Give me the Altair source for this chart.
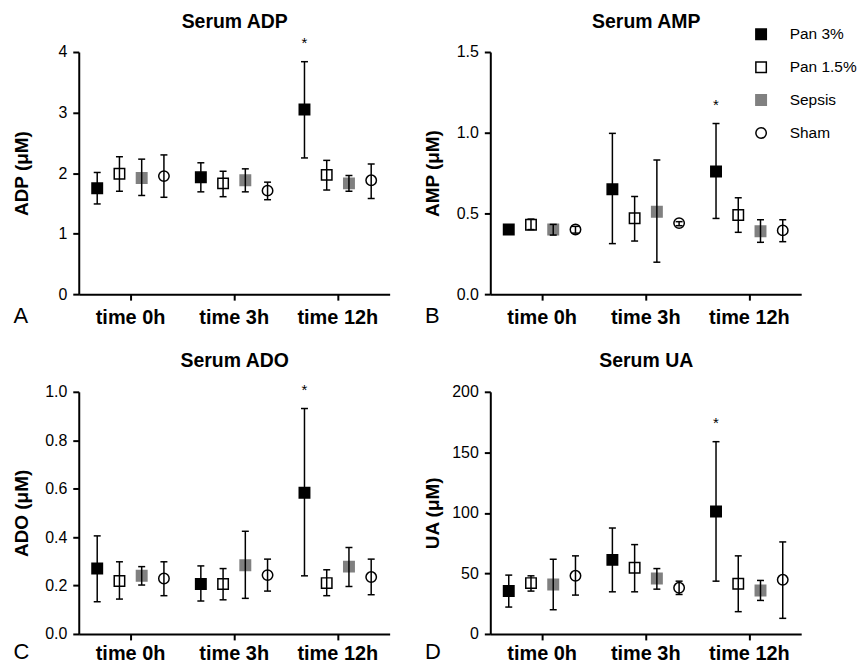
import altair as alt
import pandas as pd

times = ["time 0h", "time 3h", "time 12h"]
groups = ["Pan 3%", "Pan 1.5%", "Sepsis", "Sham"]
fills = ["#000000", "#ffffff", "#808080", "#ffffff"]
strokes = ["#000000", "#000000", "#808080", "#000000"]
shapes = ["square", "square", "square", "circle"]
star_time = "time 12h"
star_group = "Pan 3%"

# values ordered time-major: 0h (Pan3, Pan1.5, Sepsis, Sham), 3h (...), 12h (...)
adp_mean = [1.75, 1.99, 1.92, 1.95, 1.93, 1.83, 1.88, 1.71, 3.05, 1.97, 1.83, 1.88]
adp_lo = [1.49, 1.70, 1.63, 1.60, 1.69, 1.61, 1.69, 1.56, 2.25, 1.72, 1.70, 1.58]
adp_hi = [2.01, 2.27, 2.23, 2.30, 2.17, 2.03, 2.07, 1.85, 3.84, 2.21, 1.96, 2.15]

amp_mean = [0.40, 0.43, 0.40, 0.40, 0.65, 0.47, 0.51, 0.44, 0.76, 0.49, 0.39, 0.395]
amp_lo = [0.39, 0.40, 0.366, 0.378, 0.313, 0.329, 0.198, 0.424, 0.469, 0.383, 0.321, 0.325]
amp_hi = [0.41, 0.465, 0.432, 0.42, 0.996, 0.605, 0.831, 0.449, 1.057, 0.597, 0.461, 0.461]

ado_mean = [0.270, 0.219, 0.240, 0.229, 0.206, 0.206, 0.284, 0.243, 0.583, 0.210, 0.278, 0.235]
ado_lo = [0.133, 0.144, 0.202, 0.158, 0.136, 0.141, 0.147, 0.177, 0.240, 0.158, 0.196, 0.162]
ado_hi = [0.405, 0.298, 0.278, 0.298, 0.281, 0.270, 0.424, 0.309, 0.931, 0.265, 0.357, 0.309]

ua_mean = [35.4, 42.0, 40.9, 48.0, 61.2, 54.6, 45.8, 38.1, 101.2, 41.4, 35.9, 44.7]
ua_lo = [22.2, 35.4, 20.0, 32.1, 34.8, 34.8, 37.0, 32.6, 43.6, 18.4, 27.7, 12.9]
ua_hi = [48.6, 48.0, 61.7, 64.5, 87.5, 73.8, 54.0, 43.6, 158.8, 64.5, 44.2, 76.0]

FONT = "Liberation Sans"
W, H = 312, 243


def table(mean, lo, hi):
    rows = []
    k = 0
    for t in times:
        for g in groups:
            rows.append(dict(time=t, group=g, value=mean[k], lo=lo[k], hi=hi[k],
                             star="*" if (t == star_time and g == star_group) else ""))
            k += 1
    return pd.DataFrame(rows)


def panel(df, title, ytitle, ymax, yvals, fmt, letter, legend, bottom_row):
    base = alt.Chart(df)
    xsc = alt.Scale(type="band", domain=times, paddingInner=0, paddingOuter=0)
    lab_pad = 4 if bottom_row else 7
    letter_y = 25 if bottom_row else 28
    x_bottom = alt.X("time:N", sort=times, scale=xsc,
                     axis=alt.Axis(title=letter, titleX=-66, titleY=letter_y, titleAlign="left",
                                   titleBaseline="alphabetic", titleFontSize=22, titleFontWeight="normal",
                                   titleFont=FONT, labelFont=FONT, labelFontSize=20, labelFontWeight="bold",
                                   labelPadding=lab_pad, tickSize=6, tickWidth=2, domainWidth=2, labelAngle=0))
    x_top = alt.X("time:N", sort=times, scale=xsc,
                  axis=alt.Axis(orient="top", title=title, domain=False, ticks=False, labels=False,
                                titleX=W / 2, titleY=-25, titleAlign="center", titleBaseline="alphabetic",
                                titleFontSize=19.5, titleFontWeight="bold", titleFont=FONT))
    x_none = alt.X("time:N", sort=times, scale=xsc, axis=None)
    xo = alt.XOffset("group:N", sort=groups,
                     scale=alt.Scale(type="point", domain=groups, padding=0.83))
    ysc = alt.Scale(domain=[0, ymax], nice=False, zero=True)
    yax = alt.Axis(values=yvals, format=fmt, labelFontSize=16, labelFont=FONT, labelPadding=6,
                   tickSize=6, tickWidth=2, domainWidth=2, titleX=-51.5, titleY=H / 2,
                   titleAngle=270, titleAlign="center", titleBaseline="alphabetic",
                   titleFontSize=19, titleFontWeight="bold", titleFont=FONT)

    def Y(field):
        return alt.Y(f"{field}:Q", scale=ysc, axis=yax, title=ytitle)

    if legend:
        leg = alt.Legend(title=None, orient="none", legendX=264, legendY=-25.5, padding=0,
                         labelFontSize=15.5, labelFont=FONT, labelColor="black",
                         symbolSize=110, symbolStrokeWidth=1.5, rowPadding=15, labelOffset=21)
    else:
        leg = None

    pts = base.mark_point(filled=True, opacity=1, size=110, strokeWidth=1.5).encode(
        x=x_bottom, xOffset=xo, y=Y("value"),
        shape=alt.Shape("group:N", scale=alt.Scale(domain=groups, range=shapes), legend=leg),
        fill=alt.Fill("group:N", scale=alt.Scale(domain=groups, range=fills), legend=leg),
        stroke=alt.Stroke("group:N", scale=alt.Scale(domain=groups, range=strokes), legend=leg),
    )
    rule = base.mark_rule(color="black", strokeWidth=1.5).encode(
        x=x_none, xOffset=xo, y=Y("lo"), y2="hi:Q")
    tlo = base.mark_tick(color="black", orient="horizontal", size=7, thickness=1.5, opacity=1).encode(
        x=x_none, xOffset=xo, y=Y("lo"))
    thi = base.mark_tick(color="black", orient="horizontal", size=7, thickness=1.5, opacity=1).encode(
        x=x_none, xOffset=xo, y=Y("hi"))
    star = base.transform_filter("datum.star != ''").mark_text(
        fontSize=15, font=FONT, dy=-14, baseline="alphabetic", color="black").encode(
        x=x_top, xOffset=xo, y=Y("hi"), text="star:N")
    return alt.layer(pts, rule, tlo, thi, star).resolve_axis(x="independent").properties(
        width=W, height=H)


pA = panel(table(adp_mean, adp_lo, adp_hi), "Serum ADP", "ADP (\u03bcM)", 4, [0, 1, 2, 3, 4], "d", "A", False, False)
pB = panel(table(amp_mean, amp_lo, amp_hi), "Serum AMP", "AMP (\u03bcM)", 1.5, [0, 0.5, 1.0, 1.5], ".1f", "B", True, False)
pC = panel(table(ado_mean, ado_lo, ado_hi), "Serum ADO", "ADO (\u03bcM)", 1.0, [0, 0.2, 0.4, 0.6, 0.8, 1.0], ".1f", "C", False, True)
pD = panel(table(ua_mean, ua_lo, ua_hi), "Serum UA", "UA (\u03bcM)", 200, [0, 50, 100, 150, 200], "d", "D", False, True)

chart = alt.concat(
    pA, pB, pC, pD, columns=2, spacing={"row": 98, "column": 101}, bounds="flush",
    padding={"left": 4, "top": 2, "right": 0, "bottom": 0},
).resolve_scale(
    y="independent", x="independent", shape="independent", fill="independent", stroke="independent"
).resolve_legend(
    shape="independent", fill="independent", stroke="independent"
).configure_view(stroke=None).configure_axis(
    grid=False, domainColor="black", tickColor="black", labelColor="black", titleColor="black"
).properties(background="white")

chart.save("out.html", embed_options={"renderer": "svg", "actions": False})
